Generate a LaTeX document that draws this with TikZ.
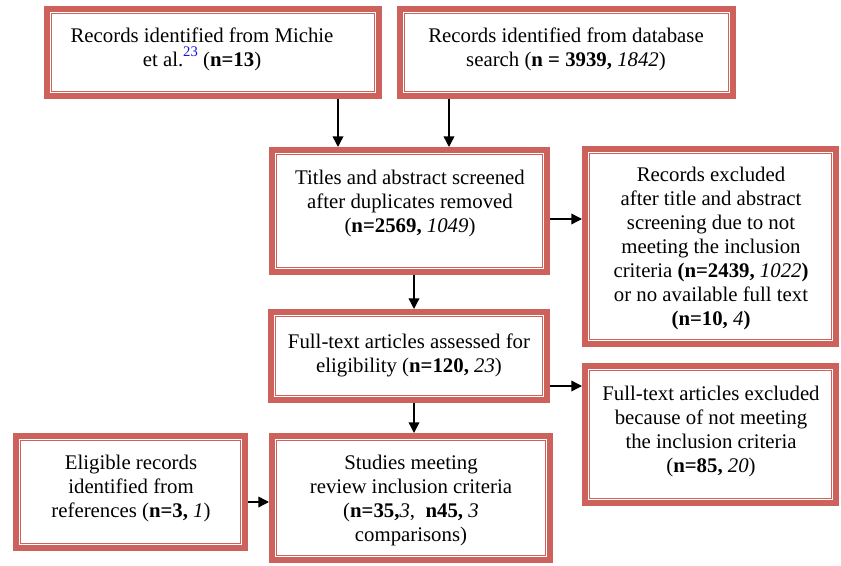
\documentclass[tikz,border=0pt]{standalone}
\usepackage{fontspec}
\setmainfont{Liberation Serif}
\usetikzlibrary{arrows.meta}
\definecolor{bord}{RGB}{205,98,92}
\definecolor{refblue}{RGB}{20,20,230}
\newcommand\redframe[1]{%
  \draw[outerline] ([shift={(2.8,2.8)}]#1.north west) rectangle ([shift={(-2.8,-2.8)}]#1.south east);
  \draw[innerline] ([shift={(7.5,7.5)}]#1.north west) rectangle ([shift={(-7.5,-7.5)}]#1.south east);}
\begin{document}
\begin{tikzpicture}[x=0.75pt,y=-0.75pt,
  boxnode/.style={rectangle,fill=white,outer sep=0pt,inner sep=0pt},
  outerline/.style={draw=bord,line width=4.2pt},
  innerline/.style={draw=bord,line width=0.9pt},
  txt/.style={align=center,inner sep=0pt,font=\fontsize{15.6pt}{18pt}\selectfont},
  arr/.style={line width=1.1pt,-{Triangle[length=8pt,width=8pt]}}]
\useasboundingbox[fill=white] (0,0) rectangle (841,566);
% boxes
\node[boxnode,minimum width={338*0.75pt},minimum height={93*0.75pt}] (b1) at (213,52.5) {};
\node[boxnode,minimum width={339*0.75pt},minimum height={93*0.75pt}] (b2) at (566.5,52.5) {};
\node[boxnode,minimum width={281*0.75pt},minimum height={128*0.75pt}] (b3) at (409.5,211) {};
\node[boxnode,minimum width={257*0.75pt},minimum height={201*0.75pt}] (b4) at (710.5,246.5) {};
\node[boxnode,minimum width={282*0.75pt},minimum height={94*0.75pt}] (b5) at (409,356) {};
\node[boxnode,minimum width={257*0.75pt},minimum height={143*0.75pt}] (b6) at (710.5,434.5) {};
\node[boxnode,minimum width={235*0.75pt},minimum height={118*0.75pt}] (b7) at (130.5,492) {};
\node[boxnode,minimum width={284*0.75pt},minimum height={130*0.75pt}] (b8) at (411,498) {};
\redframe{b1}\redframe{b2}\redframe{b3}\redframe{b4}
\redframe{b5}\redframe{b6}\redframe{b7}\redframe{b8}
% texts
\node[txt] (t1) at (202,49) {Records identified from Michie\\et al.\raisebox{0.45em}{\fontsize{11pt}{11pt}\selectfont\color{refblue}23} (\textbf{n=13})};
\node[txt] (t2) at (566,49) {Records identified from database\\search (\textbf{n = 3939,} \textit{1842})};
\node[txt] (t3) at (410,203) {Titles and abstract screened\\after duplicates removed\\(\textbf{n=2569,} \textit{1049})};
\node[txt] (t4) at (711,248) {Records excluded\\after title and abstract\\screening due to not\\meeting the inclusion\\criteria \textbf{(n=2439,} \textit{1022}\textbf{)}\\or no available full text\\\textbf{(n=10,} \textit{4}\textbf{)}};
\node[txt] (t5) at (409,355) {Full-text articles assessed for\\eligibility (\textbf{n=120,} \textit{23})};
\node[txt] (t6) at (711,431) {Full-text articles excluded\\because of not meeting\\the inclusion criteria\\(\textbf{n=85,} \textit{20})};
\node[txt] (t7) at (131,488) {Eligible records\\identified from\\references (\textbf{n=3,} \textit{1})};
\node[txt] (t8) at (411,500) {Studies meeting\\review inclusion criteria\\(\textbf{n=35,}\textit{3},\ \ \textbf{n45,} \textit{3}\\comparisons)};
% arrows
\draw[arr] ([shift={(125,0)}]b1.south) -- ([shift={(125,0)}]b1.south |- b3.north);
\draw[arr] ([shift={(-117.5,0)}]b2.south) -- ([shift={(-117.5,0)}]b2.south |- b3.north);
\draw[arr] ([shift={(0,8)}]b3.east) -- ([shift={(0,8)}]b3.east -| b4.west);
\draw[arr] ([shift={(4.5,0)}]b3.south) -- ([shift={(4.5,0)}]b3.south |- b5.north);
\draw[arr] ([shift={(0,30)}]b5.east) -- ([shift={(0,30)}]b5.east -| b6.west);
\draw[arr] ([shift={(5,0)}]b5.south) -- ([shift={(5,0)}]b5.south |- b8.north);
\draw[arr] ([shift={(0,10)}]b7.east) -- ([shift={(0,10)}]b7.east -| b8.west);
\end{tikzpicture}
\end{document}
